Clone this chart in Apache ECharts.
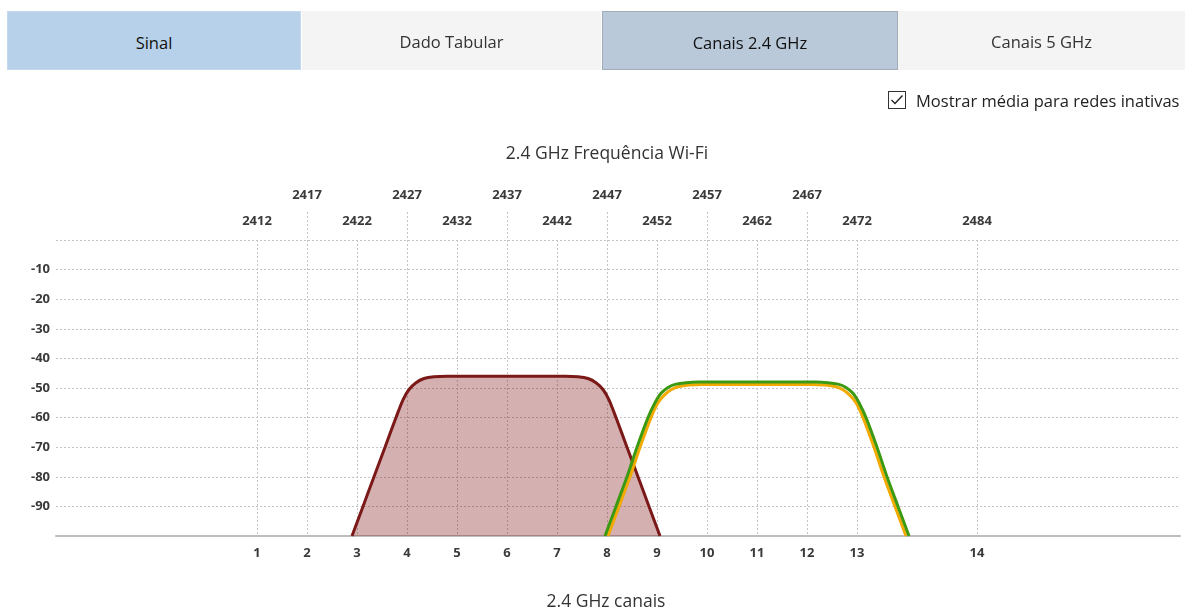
<!DOCTYPE html>
<html>
<head>
<meta charset="utf-8">
<script src="https://cdn.jsdelivr.net/npm/echarts@6/dist/echarts.min.js"></script>
<style>
  body { margin: 0; background: #fff; font-family: "Open Sans", "Noto Sans", sans-serif; }
  .tab { position: absolute; top: 11px; height: 59px; line-height: 61px; text-align: center;
         font-size: 16.5px; color: #333; box-sizing: border-box; z-index: 2; }
  .sel { color: #111; font-weight: 500; }
  #chk { position: absolute; left: 888px; top: 90px; height: 20px; z-index: 2; font-size: 16.5px; color: #222; }
  #chk svg { position: absolute; left: 0; top: 1px; }
  #chk span { position: absolute; left: 28px; top: 0; white-space: nowrap; line-height: 22px; }
  #chart { position: absolute; left: 0; top: 0; width: 1193px; height: 608px; }
</style>
</head>
<body>
<div class="tab sel" style="left:7px;width:294px;background:#b8d1ea;border:1px solid #c5d9ee">Sinal</div>
<div class="tab" style="left:302px;width:299px;background:#f4f4f4">Dado Tabular</div>
<div class="tab sel" style="left:602px;width:296px;background:#b9c9d9;border:1px solid #a3adb8">Canais 2.4 GHz</div>
<div class="tab" style="left:898px;width:287px;background:#f4f4f4">Canais 5 GHz</div>
<div id="chk">
  <svg width="18" height="18"><rect x="0.5" y="0.5" width="17" height="17" fill="#fff" stroke="#333"/>
  <polyline points="3.5,9 7,12.5 14.5,4.5" fill="none" stroke="#222" stroke-width="1.4"/></svg>
  <span>Mostrar média para redes inativas</span>
</div>
<div id="chart"></div>
<script>
// channel centre frequencies (MHz) and their numbers
const channelNums = [1, 2, 3, 4, 5, 6, 7, 8, 9, 10, 11, 12, 13, 14];
const channelFreqs = [2412, 2417, 2422, 2427, 2432, 2437, 2442, 2447, 2452, 2457, 2462, 2467, 2472, 2484];
// top labels, two rows
const upperFreqs = [2417, 2427, 2437, 2447, 2457, 2467];
const lowerFreqs = [2412, 2422, 2432, 2442, 2452, 2462, 2472, 2484];

// networks: [frequency MHz, signal dBm]
const redNet = [
  [2421.5, -100], [2422.6, -90], [2423.7, -80], [2424.8, -70], [2425.9, -60], [2426.6, -54],
  [2427.2, -50.5], [2427.9, -48.2], [2428.7, -46.8], [2429.7, -46.2], [2431, -46], [2437, -46],
  [2442.8, -46], [2444.1, -46.2], [2445.1, -46.8], [2445.9, -48.2], [2446.6, -50.5], [2447.2, -54],
  [2447.9, -60], [2449.0, -70], [2450.1, -80], [2451.2, -90], [2452.3, -100]
];
const orangeNet = [
  [2447.1, -100], [2448.2, -90], [2449.3, -80], [2450.3, -70], [2451.4, -60], [2452.1, -55],
  [2452.7, -52.5], [2453.4, -50.6], [2454.2, -49.5], [2455.2, -49], [2456.5, -48.8], [2462, -48.8],
  [2467.5, -48.8], [2468.8, -49], [2469.8, -49.5], [2470.6, -50.6], [2471.3, -52.5], [2471.9, -55],
  [2472.6, -60], [2473.7, -70], [2474.7, -80], [2475.8, -90], [2476.9, -100]
];
const greenNet = [
  [2446.8, -100], [2447.9, -90], [2449.0, -80], [2450.0, -70], [2451.1, -60], [2451.8, -55],
  [2452.4, -51.8], [2453.1, -49.8], [2453.9, -48.7], [2454.9, -48.2], [2456.2, -48], [2462, -48],
  [2467.8, -48], [2469.1, -48.2], [2470.1, -48.7], [2470.9, -49.8], [2471.6, -51.8], [2472.2, -55],
  [2472.9, -60], [2474.0, -70], [2475.0, -80], [2476.1, -90], [2477.2, -100]
];

const labelFont = { fontFamily: 'Open Sans', fontWeight: 'bold', fontSize: 13, color: '#3a3a3a' };
const dotted = { color: '#c4c4c4', type: [2, 2], width: 1 };
const xMin = 2391.9, xMax = 2504.3;

const chart = echarts.init(document.getElementById('chart'));
chart.setOption({
  animation: false,
  title: [
    { text: '2.4 GHz Frequência Wi-Fi', left: 602, top: 140, textAlign: 'center',
      textStyle: { fontFamily: 'Open Sans', fontWeight: 'normal', fontSize: 17.5, color: '#333' } },
    { text: '2.4 GHz canais', left: 601, top: 588, textAlign: 'center',
      textStyle: { fontFamily: 'Open Sans', fontWeight: 'normal', fontSize: 17.5, color: '#333' } }
  ],
  grid: [
    { left: 56, right: 13, top: 240, bottom: 72 },
    { left: 56, right: 13, top: 212, height: 28 }
  ],
  xAxis: [
    { // channels, bottom
      type: 'value', gridIndex: 0, min: xMin, max: xMax, position: 'bottom',
      axisLine: { show: true, onZero: false, lineStyle: { color: '#bdbdbd', width: 2 } },
      axisTick: { show: false, customValues: channelFreqs },
      axisLabel: Object.assign({ customValues: channelFreqs, margin: 11,
        formatter: v => channelNums[channelFreqs.indexOf(v)] }, labelFont),
      splitLine: { show: true, lineStyle: dotted }
    },
    { // lower frequency row
      type: 'value', gridIndex: 0, min: xMin, max: xMax, position: 'top',
      axisLine: { show: false }, axisTick: { show: false, customValues: lowerFreqs },
      axisLabel: Object.assign({ customValues: lowerFreqs, margin: 12, formatter: v => String(v) }, labelFont),
      splitLine: { show: false }
    },
    { // upper frequency row, lines reaching above the plot
      type: 'value', gridIndex: 1, min: xMin, max: xMax, position: 'top',
      axisLine: { show: false }, axisTick: { show: false, customValues: upperFreqs },
      axisLabel: Object.assign({ customValues: upperFreqs, margin: 10, formatter: v => String(v) }, labelFont),
      splitLine: { show: true, lineStyle: dotted }
    }
  ],
  yAxis: [
    {
      type: 'value', gridIndex: 0, min: -100, max: 0, interval: 10,
      axisLine: { show: false }, axisTick: { show: false },
      axisLabel: Object.assign({ margin: 6, formatter: v => (v === 0 || v === -100) ? '' : String(v) }, labelFont),
      splitLine: { show: true, lineStyle: dotted }
    },
    { type: 'value', gridIndex: 1, min: 0, max: 1, show: false, splitLine: { show: false } }
  ],
  series: [
    { type: 'line', xAxisIndex: 0, yAxisIndex: 0, data: redNet, showSymbol: false, smooth: 0.3,
      lineStyle: { color: '#7b1818', width: 3 },
      areaStyle: { origin: 'start', color: 'rgba(120,10,10,0.32)', opacity: 1 } },
    { type: 'line', xAxisIndex: 0, yAxisIndex: 0, data: orangeNet, showSymbol: false, smooth: 0.3,
      lineStyle: { color: '#f2a900', width: 3 } },
    { type: 'line', xAxisIndex: 0, yAxisIndex: 0, data: greenNet, showSymbol: false, smooth: 0.3,
      lineStyle: { color: '#3c9a12', width: 3 } }
  ]
});
</script>
</body>
</html>
